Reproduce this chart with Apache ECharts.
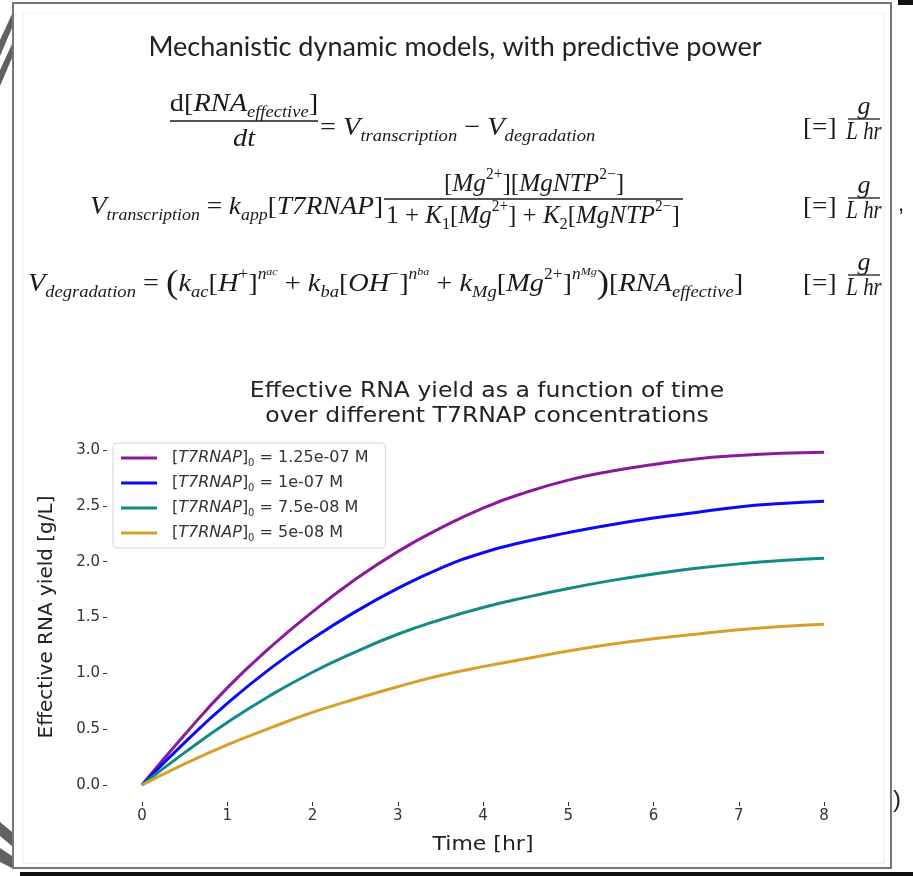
<!DOCTYPE html>
<html>
<head>
<meta charset="utf-8">
<script src="https://cdn.jsdelivr.net/npm/echarts@6/dist/echarts.min.js"></script>
<style>
  html, body { margin: 0; padding: 0; background: #fff; }
  #chart { width: 913px; height: 876px; }
</style>
</head>
<body>
<div id="chart"></div>
<script>
// data (time in hr, yield in g/L)
const timeHr = [0, 0.5, 1, 1.5, 2, 2.5, 3, 3.5, 4, 4.5, 5, 5.5, 6, 6.5, 7, 7.5, 8];
const yield125 = [0, 0.45, 0.87, 1.23, 1.55, 1.84, 2.09, 2.30, 2.48, 2.62, 2.73, 2.81, 2.87, 2.92, 2.95, 2.97, 2.98];
const yield100 = [0, 0.38, 0.73, 1.04, 1.31, 1.55, 1.76, 1.94, 2.08, 2.18, 2.26, 2.33, 2.39, 2.44, 2.49, 2.52, 2.54];
const yield075 = [0, 0.29, 0.56, 0.80, 1.01, 1.19, 1.35, 1.48, 1.59, 1.68, 1.76, 1.83, 1.89, 1.94, 1.98, 2.01, 2.03];
const yield050 = [0, 0.19, 0.36, 0.51, 0.65, 0.77, 0.88, 0.98, 1.06, 1.13, 1.20, 1.26, 1.31, 1.35, 1.39, 1.42, 1.44];
const concLabels = ['1.25e-07', '1e-07', '7.5e-08', '5e-08'];
const lineColors = ['#8a1a9b', '#0a0af5', '#138a85', '#d4a12a'];
const xTicks = [0, 8, 1];      // min, max, step
const yTicks = [0, 3, 0.5];

const chart = echarts.init(document.getElementById('chart'));

const MF = 'Liberation Serif';
const INK = '#1a1a1a';
const EQ_SX = 1.09;  // the slide font is wider than Liberation Serif
// rich styles for the equations
const eqRich = {
  n: { fontFamily: MF, fontSize: 26, fontStyle: 'normal', fill: INK, lineHeight: 34 },
  b: { fontFamily: MF, fontSize: 17, fontStyle: 'italic', fill: INK, verticalAlign: 'bottom', lineHeight: 20 },
  bn: { fontFamily: MF, fontSize: 17, fontStyle: 'normal', fill: INK, verticalAlign: 'bottom', lineHeight: 20 },
  p: { fontFamily: MF, fontSize: 16, fontStyle: 'normal', fill: INK, verticalAlign: 'top', lineHeight: 22 },
  pi: { fontFamily: MF, fontSize: 16, fontStyle: 'italic', fill: INK, verticalAlign: 'top', lineHeight: 21 },
  q: { fontFamily: MF, fontSize: 11, fontStyle: 'italic', fill: INK, verticalAlign: 'top', lineHeight: 28 },
  big: { fontFamily: MF, fontSize: 34, fontStyle: 'normal', fill: INK, lineHeight: 34 }
};
function eq(x, y, text, align, sx) {
  return {
    type: 'text', x: x, y: y, scaleX: sx || EQ_SX,
    style: {
      text: text, rich: eqRich, fill: INK,
      fontFamily: MF, fontSize: 26, fontStyle: 'italic', lineHeight: 34,
      align: align || 'left', verticalAlign: 'middle'
    }
  };
}
function bar(x1, x2, y) {
  return { type: 'line', shape: { x1: x1, y1: y, x2: x2, y2: y }, style: { stroke: INK, lineWidth: 1.3 } };
}
function units(y) {
  return [
    eq(803, y, '{n|[=]}', 'left', 1.05),
    eq(864, y - 21, 'g', 'center', 1),
    bar(848, 880, y - 9),
    eq(864, y + 4, 'L hr', 'center', 0.8)
  ];
}
function plain(x, y, text, size, align, family, rot, sx) {
  return {
    type: 'text', x: x, y: y, rotation: rot || 0, scaleX: sx || 1,
    style: {
      text: text, fill: '#222', fontSize: size, fontFamily: family || 'DejaVu Sans',
      align: align || 'center', verticalAlign: 'middle'
    }
  };
}

const graphics = [
  // slide frame
  { type: 'rect', shape: { x: 13, y: 3, width: 878, height: 865 }, style: { fill: '#fff', stroke: '#777', lineWidth: 2 } },
  { type: 'rect', shape: { x: 23, y: 13, width: 861, height: 850 }, style: { fill: 'none', stroke: '#ececec', lineWidth: 1 } },
  { type: 'rect', shape: { x: 20, y: 872, width: 893, height: 4 }, style: { fill: '#111' } },
  { type: 'rect', shape: { x: 898, y: 0, width: 15, height: 5 }, style: { fill: '#111' } },
  { type: 'polygon', shape: { points: [[0, 40], [12, 14], [12, 28], [0, 56]] }, style: { fill: '#5f6060' } },
  { type: 'polygon', shape: { points: [[0, 70], [12, 44], [12, 58], [0, 86]] }, style: { fill: '#5f6060' } },
  { type: 'polygon', shape: { points: [[0, 822], [12, 832], [12, 846], [0, 836]] }, style: { fill: '#5f6060' } },
  { type: 'polygon', shape: { points: [[0, 848], [12, 856], [12, 868], [0, 862]] }, style: { fill: '#5f6060' } },
  plain(897, 800, ')', 24, 'center', 'Liberation Sans'),
  plain(901, 205, ',', 22, 'center', 'Liberation Sans'),

  // slide title
  plain(455, 47, 'Mechanistic dynamic models, with predictive power', 27, 'center', 'Lato'),

  // equation 1
  eq(244, 104, '{n|d[}RNA{b|effective}{n|]}', 'center'),
  bar(170, 318, 121),
  eq(244, 139, 'dt', 'center'),
  eq(320, 128, '{n|= }V{b|transcription}{n| − }V{b|degradation}'),
  ...units(128),

  // equation 2
  eq(383, 207, 'V{b|transcription}{n| = }k{b|app}{n|[}T7RNAP{n|]}', 'right', 1.05),
  eq(534, 184, '{n|[}Mg{p|2+}{n|][}MgNTP{p|2−}{n|]}', 'center', 0.97),
  bar(384, 683, 199),
  eq(533, 216, '{n|1 + }K{bn|1}{n|[}Mg{p|2+}{n|] + }K{bn|2}{n|[}MgNTP{p|2−}{n|]}', 'center', 0.96),
  ...units(207),

  // equation 3
  eq(28, 284, 'V{b|degradation}{n| = }{big|(}k{b|ac}{n|[}H{p|+}{n|]}{pi|n}{q|ac}{n| + }k{b|ba}{n|[}OH{p|−}{n|]}{pi|n}{q|ba}{n| + }k{b|Mg}{n|[}Mg{p|2+}{n|]}{pi|n}{q|Mg}{big|)}{n|[}RNA{b|effective}{n|]}'),
  ...units(284),

  // chart titles
  plain(487, 392, 'Effective RNA yield as a function of time', 21, 'center', 'DejaVu Sans', 0, 1.12),
  plain(487, 417, 'over different T7RNAP concentrations', 21, 'center', 'DejaVu Sans', 0, 1.12),
  plain(483, 845, 'Time [hr]', 20, 'center', 'DejaVu Sans', 0, 1.1),
  plain(47, 617, 'Effective RNA yield [g/L]', 20, 'center', 'DejaVu Sans', Math.PI / 2)
];

const seriesData = [yield125, yield100, yield075, yield050];
const names = concLabels.map(c => '[T7RNAP]0 = ' + c + ' M');

const option = {
  animation: false,
  backgroundColor: '#fff',
  graphic: { elements: graphics },
  grid: [
    { left: 107, top: 437, width: 752, height: 365, show: true, borderColor: '#3a3a3a', borderWidth: 1.2, backgroundColor: 'transparent' },
    { left: 142, top: 437, width: 682, height: 365 },
    { left: 107, top: 450, width: 752, height: 335 }
  ],
  xAxis: [
    { gridIndex: 0, type: 'value', min: -0.41, max: 8.41, show: false },
    {
      gridIndex: 1, type: 'value', min: xTicks[0], max: xTicks[1], interval: xTicks[2],
      axisLine: { show: false }, splitLine: { show: false },
      axisTick: { show: true, length: 4, lineStyle: { color: '#333' } },
      axisLabel: { margin: 7, color: '#333', fontSize: 15, fontFamily: 'DejaVu Sans' }
    },
    { gridIndex: 2, type: 'value', show: false }
  ],
  yAxis: [
    { gridIndex: 0, type: 'value', min: -0.152, max: 3.116, show: false },
    { gridIndex: 1, type: 'value', show: false },
    {
      gridIndex: 2, type: 'value', min: yTicks[0], max: yTicks[1], interval: yTicks[2],
      axisLine: { show: false }, splitLine: { show: false },
      axisTick: { show: true, length: 4, lineStyle: { color: '#333' } },
      axisLabel: { margin: 7, color: '#333', fontSize: 15, fontFamily: 'DejaVu Sans', formatter: v => v.toFixed(1) }
    }
  ],
  legend: {
    left: 113, top: 443, orient: 'vertical',
    itemWidth: 36, itemHeight: 3, itemGap: 5, icon: 'rect',
    padding: [5, 17, 5, 8],
    backgroundColor: '#fff', borderColor: '#d4d4d4', borderWidth: 1, borderRadius: 4,
    data: names,
    formatter: name => {
      const c = name.split(' = ')[1];
      return '{t|[}{i|T7RNAP}{t|]}{s|0}{t| = ' + c + '}';
    },
    textStyle: {
      lineHeight: 20, padding: [0, 0, 0, 10],
      rich: {
        t: { fontFamily: 'DejaVu Sans', fontSize: 16, color: '#333', lineHeight: 20 },
        i: { fontFamily: 'DejaVu Sans', fontSize: 16, fontStyle: 'italic', color: '#333', lineHeight: 20 },
        s: { fontFamily: 'DejaVu Sans', fontSize: 10, color: '#333', verticalAlign: 'bottom', lineHeight: 14 }
      }
    }
  },
  series: seriesData.map((vals, k) => ({
    name: names[k],
    type: 'line',
    xAxisIndex: 0, yAxisIndex: 0,
    smooth: true, showSymbol: false,
    color: lineColors[k],
    lineStyle: { width: 3, color: lineColors[k] },
    data: timeHr.map((t, i) => [t, vals[i]])
  }))
};

chart.setOption(option);
</script>
</body>
</html>
